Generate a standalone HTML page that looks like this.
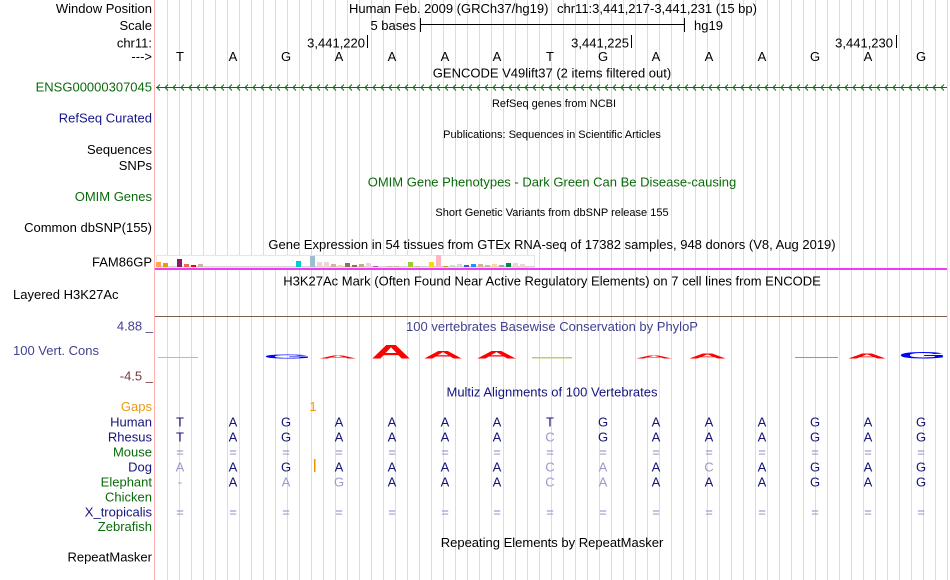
<!DOCTYPE html>
<html><head><meta charset="utf-8"><style>
html,body{margin:0;padding:0;background:#fff;}
svg{display:block;font-family:"Liberation Sans",Arial,sans-serif;font-size:13px;}
</style></head><body>
<svg width="950" height="580" viewBox="0 0 950 580" xmlns="http://www.w3.org/2000/svg">
<defs>
<pattern id="grid" x="167" y="0" width="12" height="580" patternUnits="userSpaceOnUse"><rect x="0" y="0" width="1" height="580" fill="#dadaf5"/></pattern>
<pattern id="arr" x="156" y="83" width="8" height="9" patternUnits="userSpaceOnUse"><polyline points="4,1.5 1,4.5 4,7.5" fill="none" stroke="#0b6a0b" stroke-width="1"/></pattern>
</defs>
<rect width="950" height="580" fill="#fff"/>
<rect x="167" y="0" width="781" height="580" fill="url(#grid)"/>
<rect x="154" y="0" width="1" height="580" fill="#ffb0b0"/>

<!-- left labels -->
<g text-anchor="end" fill="#000">
<text x="152" y="13">Window Position</text>
<text x="152" y="30">Scale</text>
<text x="152" y="47.5">chr11:</text>
<text x="152" y="61">---&gt;</text>
<text x="152" y="91.5" fill="#0b6a0b">ENSG00000307045</text>
<text x="152" y="122.5" fill="#16168a">RefSeq Curated</text>
<text x="152" y="154">Sequences</text>
<text x="152" y="170">SNPs</text>
<text x="152" y="201" fill="#0b6a0b">OMIM Genes</text>
<text x="152" y="232">Common dbSNP(155)</text>
<text x="152" y="266.5">FAM86GP</text>
<text x="153" y="330.5" fill="#42428f">4.88 _</text>
<text x="153" y="380.5" fill="#7a3a3a">-4.5 _</text>
<text x="152" y="411" fill="#ee9911">Gaps</text>
<text x="152" y="426.5" fill="#14147d">Human</text>
<text x="152" y="441.5" fill="#14147d">Rhesus</text>
<text x="152" y="456.5" fill="#0b6a0b">Mouse</text>
<text x="152" y="471.5" fill="#14147d">Dog</text>
<text x="152" y="486.5" fill="#0b6a0b">Elephant</text>
<text x="152" y="501.5" fill="#0b6a0b">Chicken</text>
<text x="152" y="516.5" fill="#14147d">X_tropicalis</text>
<text x="152" y="531" fill="#0b6a0b">Zebrafish</text>
<text x="152" y="561.5">RepeatMasker</text>
</g>
<text x="13" y="299">Layered H3K27Ac</text>
<text x="13" y="355" fill="#42428f">100 Vert. Cons</text>

<!-- header -->
<text x="349" y="13">Human Feb. 2009 (GRCh37/hg19)</text>
<text x="557" y="13">chr11:3,441,217-3,441,231 (15 bp)</text>
<text x="416" y="30" text-anchor="end">5 bases</text>
<rect x="420" y="24" width="265" height="1" fill="#000"/>
<rect x="420" y="18" width="1" height="14" fill="#000"/>
<rect x="684" y="18" width="1" height="14" fill="#000"/>
<text x="694" y="30">hg19</text>
<g text-anchor="end">
<text x="365" y="47.7">3,441,220</text>
<text x="629" y="47.7">3,441,225</text>
<text x="893" y="47.7">3,441,230</text>
</g>
<rect x="367" y="35" width="1" height="13" fill="#000"/>
<rect x="631" y="35" width="1" height="13" fill="#000"/>
<rect x="896" y="35" width="1" height="13" fill="#000"/>
<text y="61" text-anchor="middle"><tspan x="180">T</tspan><tspan x="233">A</tspan><tspan x="286">G</tspan><tspan x="339">A</tspan><tspan x="392">A</tspan><tspan x="445">A</tspan><tspan x="497">A</tspan><tspan x="550">T</tspan><tspan x="603">G</tspan><tspan x="656">A</tspan><tspan x="709">A</tspan><tspan x="762">A</tspan><tspan x="815">G</tspan><tspan x="868">A</tspan><tspan x="921">G</tspan></text>

<!-- center titles -->
<g text-anchor="middle">
<text x="552" y="77.5">GENCODE V49lift37 (2 items filtered out)</text>
<text x="554" y="107" font-size="11">RefSeq genes from NCBI</text>
<text x="552" y="138" font-size="11">Publications: Sequences in Scientific Articles</text>
<text x="552" y="186.5" fill="#0b6a0b">OMIM Gene Phenotypes - Dark Green Can Be Disease-causing</text>
<text x="552" y="216" font-size="11">Short Genetic Variants from dbSNP release 155</text>
<text x="552" y="249">Gene Expression in 54 tissues from GTEx RNA-seq of 17382 samples, 948 donors (V8, Aug 2019)</text>
<text x="552" y="285.5">H3K27Ac Mark (Often Found Near Active Regulatory Elements) on 7 cell lines from ENCODE</text>
<text x="552" y="331" fill="#42428f">100 vertebrates Basewise Conservation by PhyloP</text>
<text x="552" y="396.5" fill="#14147d">Multiz Alignments of 100 Vertebrates</text>
<text x="552" y="547">Repeating Elements by RepeatMasker</text>
</g>

<!-- ENSG gene line -->
<rect x="156" y="87" width="791" height="1" fill="#0b6a0b"/>
<rect x="156" y="83" width="791" height="9" fill="url(#arr)"/>

<!-- GTEx -->
<rect x="156.5" y="255.5" width="378" height="12" fill="#fff" stroke="#e6e6e6" stroke-width="1"/>
<rect x="156" y="266" width="379" height="1" fill="#d4d4d4"/>
<g>
<rect x="156" y="262" width="5" height="5" fill="#ffa54f"/>
<rect x="163" y="263" width="5" height="4" fill="#ee9a00"/>
<rect x="177" y="259" width="5" height="8" fill="#8b1c62"/>
<rect x="184" y="264" width="5" height="3" fill="#ee6a50"/>
<rect x="191" y="265" width="5" height="2" fill="#ff0000"/>
<rect x="198" y="264" width="5" height="3" fill="#cdb79e"/>
<rect x="296" y="261" width="5" height="6" fill="#00cdcd"/>
<rect x="310" y="256" width="5" height="11" fill="#9ac0cd"/>
<rect x="317" y="262" width="5" height="5" fill="#eed5d2"/>
<rect x="324" y="262" width="5" height="5" fill="#eed5d2"/>
<rect x="331" y="264" width="5" height="3" fill="#cdb79e"/>
<rect x="338" y="265" width="5" height="2" fill="#ffd39b"/>
<rect x="345" y="263" width="5" height="4" fill="#8b7355"/>
<rect x="352" y="265" width="5" height="2" fill="#8b7355"/>
<rect x="359" y="264" width="5" height="3" fill="#cdaa7d"/>
<rect x="366" y="263" width="5" height="4" fill="#eed5d2"/>
<rect x="373" y="266" width="5" height="1" fill="#b452cd"/>
<rect x="387" y="266" width="5" height="1" fill="#cdb79e"/>
<rect x="394" y="266" width="5" height="1" fill="#cdb79e"/>
<rect x="408" y="262" width="5" height="5" fill="#9acd32"/>
<rect x="415" y="266" width="5" height="1" fill="#cdb79e"/>
<rect x="429" y="262" width="5" height="5" fill="#ffd700"/>
<rect x="436" y="255" width="5" height="12" fill="#ffb6c1"/>
<rect x="443" y="266" width="5" height="1" fill="#cd9b1d"/>
<rect x="450" y="265" width="5" height="2" fill="#b4eeb4"/>
<rect x="457" y="264" width="5" height="3" fill="#d9d9d9"/>
<rect x="464" y="265" width="5" height="2" fill="#3a5fcd"/>
<rect x="471" y="264" width="5" height="3" fill="#1e90ff"/>
<rect x="478" y="264" width="5" height="3" fill="#cdb79e"/>
<rect x="485" y="265" width="5" height="2" fill="#cdb79e"/>
<rect x="492" y="264" width="5" height="3" fill="#ffd39b"/>
<rect x="499" y="265" width="5" height="2" fill="#a6a6a6"/>
<rect x="506" y="263" width="5" height="4" fill="#008b45"/>
<rect x="513" y="263" width="5" height="4" fill="#eed5d2"/>
<rect x="520" y="264" width="5" height="3" fill="#eed5d2"/>
</g>
<rect x="155" y="268" width="792" height="2" fill="#f03cf0"/>

<!-- H3K27Ac baseline -->
<rect x="155" y="316" width="792" height="1" fill="#7d5e4d"/>

<!-- PhyloP logos -->
<rect x="158" y="357" width="40" height="1" fill="#f4a0a0"/>
<g font-size="100" font-weight="bold" text-anchor="middle">
<text transform="translate(287.5,358.5) scale(0.623,0.055)" fill="#0000ff">G</text>
<text transform="translate(338,358.5) scale(0.54,0.045)" fill="#ff0000">A</text>
<text transform="translate(391,358.5) scale(0.555,0.195)" fill="#ff0000">A</text>
<text transform="translate(443,358.5) scale(0.555,0.11)" fill="#ff0000">A</text>
<text transform="translate(496.5,358.5) scale(0.57,0.11)" fill="#ff0000">A</text>
<text transform="translate(654,358.5) scale(0.53,0.045)" fill="#ff0000">A</text>
<text transform="translate(707.5,358.5) scale(0.54,0.07)" fill="#ff0000">A</text>
<text transform="translate(867,358.5) scale(0.555,0.07)" fill="#ff0000">A</text>
<text transform="translate(922.5,358.5) scale(0.623,0.095)" fill="#0000ff">G</text>
</g>
<rect x="532" y="357" width="40" height="1.5" fill="#c8c47a"/>
<rect x="795" y="357" width="43" height="1" fill="#8c8cf0"/>

<!-- Multiz alignment -->
<text x="313" y="411" text-anchor="middle" fill="#ee9911">1</text>
<rect x="314" y="459" width="1.5" height="13" fill="#e69500"/>
<g text-anchor="middle">
<text y="426.5" fill="#14147d" x="180 233 286 339 392 445 497 550 603 656 709 762 815 868 921">TAGAAAATGAAAGAG</text>
<text y="441.5" fill="#14147d" x="180 233 286 339 392 445 497 603 656 709 762 815 868 921">TAGAAAAGAAAGAG</text>
<text y="441.5" fill="#9a9acb" x="550">C</text>
<text y="456.5" fill="#8a8ac4" x="180 233 286 339 392 445 497 550 603 656 709 762 815 868 921">===============</text>
<text y="471.5" fill="#14147d" x="233 286 339 392 445 497 656 762 815 868 921">AGAAAAAAGAG</text>
<text y="471.5" fill="#9a9acb" x="180 550 603 709">ACAC</text>
<text y="486.5" fill="#14147d" x="233 392 445 497 656 709 762 815 868 921">AAAAAAAGAG</text>
<text y="486.5" fill="#9a9acb" x="180 286 339 550 603">-AGCA</text>
<text y="516.5" fill="#8a8ac4" x="180 233 286 339 392 445 497 550 603 656 709 762 815 868 921">===============</text>
</g>
</svg>
</body></html>
